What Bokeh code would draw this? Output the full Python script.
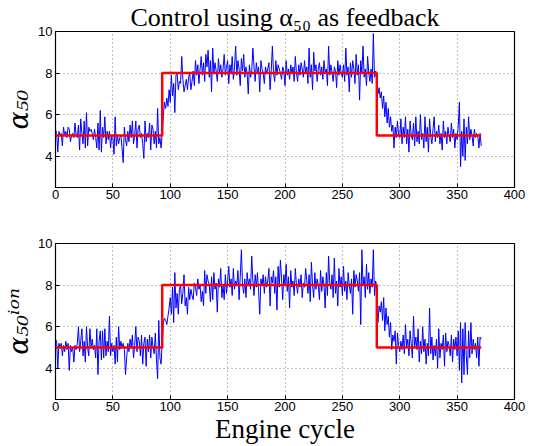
from bokeh.plotting import figure
from bokeh.layouts import column
from bokeh.models import FixedTicker, Range1d
from bokeh.embed import file_html
from bokeh.resources import INLINE

# ---------------- data ----------------
cycles = list(range(372))

alpha50 = [
    5.3, 5.1, 4.2, 5.2, 5.0, 5.1, 4.5, 5.4, 5.0, 5.2,
    4.9, 5.4, 5.3, 4.7, 5.0, 5.1, 4.9, 5.6, 5.0, 4.9,
    5.5, 4.3, 5.8, 5.1, 4.6, 5.7, 4.4, 6.1, 4.5, 5.4,
    5.2, 5.3, 5.1, 4.8, 5.3, 4.9, 4.4, 5.6, 4.3, 6.2,
    4.2, 5.4, 4.9, 5.9, 4.6, 5.2, 4.8, 5.2, 4.4, 5.0,
    4.9, 4.1, 5.9, 4.5, 5.0, 4.6, 4.9, 5.0, 4.4, 3.7,
    5.4, 4.8, 4.5, 5.2, 4.7, 5.5, 4.9, 5.7, 4.6, 5.0,
    5.7, 4.4, 5.3, 5.5, 4.9, 5.1, 4.6, 3.9, 5.7, 4.7,
    5.1, 4.9, 5.6, 4.3, 5.5, 5.3, 4.6, 5.2, 4.4, 6.3,
    4.6, 4.9, 4.4, 5.1, 6.0, 6.6, 6.3, 6.8, 6.4, 7.2,
    6.6, 7.9, 6.9, 7.5, 6.1, 7.9, 8.0, 7.2, 7.6, 7.5,
    8.8, 7.7, 7.1, 7.4, 7.7, 7.2, 7.8, 8.0, 7.2, 7.6,
    8.1, 7.4, 8.6, 7.9, 8.4, 7.5, 8.2, 8.8, 7.9, 8.5,
    7.6, 8.9, 8.3, 9.1, 7.8, 8.6, 7.1, 9.2, 8.0, 8.5,
    8.1, 7.6, 8.7, 8.0, 8.4, 7.8, 8.2, 8.9, 7.9, 8.3,
    8.6, 7.5, 8.4, 8.0, 8.8, 7.7, 8.3, 9.3, 7.9, 8.6,
    8.2, 7.4, 8.7, 8.1, 8.9, 7.8, 8.3, 8.0, 7.0, 8.4,
    7.8, 8.1, 9.2, 8.3, 7.6, 8.5, 8.0, 8.3, 7.1, 8.6,
    8.2, 8.0, 7.5, 8.3, 8.0, 8.2, 8.5, 7.2, 8.1, 9.3,
    8.0, 7.6, 8.6, 7.9, 8.4, 8.2, 8.0, 7.7, 8.3, 8.1,
    7.4, 8.6, 7.9, 8.2, 7.7, 8.4, 8.0, 8.3, 7.6, 8.8,
    8.0, 7.6, 8.4, 7.9, 8.5, 8.2, 7.8, 8.6, 8.0, 8.3,
    7.5, 9.2, 7.8, 8.4, 7.2, 9.0, 8.1, 8.4, 7.6, 8.2,
    8.5, 7.9, 8.3, 7.7, 8.6, 8.0, 8.2, 7.4, 9.3, 7.9,
    8.4, 8.0, 7.6, 8.3, 8.1, 7.3, 8.6, 7.9, 8.4, 8.0,
    7.8, 8.4, 7.6, 9.2, 7.9, 8.3, 7.1, 8.5, 7.8, 8.6,
    8.2, 7.5, 8.9, 7.9, 8.4, 6.7, 8.6, 8.0, 9.3, 7.8,
    8.2, 7.4, 8.8, 8.0, 7.6, 8.2, 7.5, 9.9, 7.8, 8.1,
    7.7, 7.0, 7.3, 6.8, 7.1, 6.3, 6.9, 5.9, 6.6, 5.6,
    6.3, 5.4, 5.9, 5.2, 5.5, 4.4, 5.4, 4.9, 5.7, 5.0,
    4.9, 5.8, 4.6, 5.4, 4.9, 5.9, 4.6, 5.3, 4.2, 5.7,
    5.0, 4.8, 5.6, 4.5, 5.9, 4.7, 5.2, 4.6, 6.0, 4.8,
    5.1, 4.4, 5.9, 4.7, 5.4, 4.2, 5.8, 5.0, 4.6, 5.3,
    5.9, 4.7, 5.2, 4.9, 5.5, 4.6, 5.1, 4.3, 5.7, 4.9,
    5.2, 4.6, 5.4, 5.0, 4.7, 5.6, 4.9, 5.3, 4.4, 5.1,
    4.8, 5.5, 6.6, 3.5, 5.2, 4.0, 5.8, 3.8, 5.4, 4.6,
    5.9, 4.8, 5.3, 5.0, 4.5, 5.3, 4.9, 5.1, 5.0, 4.4,
    5.1, 4.5,
]

alpha50_ion = [
    5.4, 5.3, 4.0, 5.2, 5.0, 5.2, 4.6, 5.1, 4.8, 5.3,
    4.9, 5.2, 3.9, 5.1, 4.8, 5.0, 4.3, 5.1, 4.9, 5.2,
    6.0, 4.8, 5.3, 5.9, 4.6, 5.3, 4.3, 6.0, 5.0, 4.6,
    5.9, 5.0, 5.4, 4.9, 5.1, 4.5, 5.9, 3.7, 5.3, 5.8,
    4.4, 5.8, 4.5, 5.9, 4.6, 5.3, 4.8, 6.5, 4.6, 5.2,
    4.8, 5.1, 4.2, 5.5, 4.3, 6.0, 4.9, 5.3, 5.0, 5.2,
    4.9, 3.7, 4.5, 5.2, 4.8, 5.4, 5.0, 5.6, 4.5, 5.1,
    6.0, 4.8, 5.5, 5.3, 4.6, 5.6, 4.2, 5.2, 5.5, 4.1,
    5.4, 4.8, 5.6, 4.5, 5.5, 5.0, 4.7, 5.7, 4.4, 3.5,
    6.3, 4.5, 4.2, 5.2, 6.2, 6.4, 6.3, 6.1, 6.5, 6.9,
    7.4, 6.6, 7.9, 6.2, 8.6, 6.9, 7.6, 6.6, 7.8, 8.0,
    7.1, 7.6, 8.5, 7.0, 7.4, 6.6, 7.9, 7.3, 7.8, 7.5,
    7.3, 8.1, 7.9, 7.5, 8.3, 7.8, 8.0, 7.2, 7.7, 7.0,
    8.7, 7.6, 8.5, 8.2, 8.0, 7.2, 8.4, 7.3, 8.6, 7.8,
    8.1, 6.7, 8.3, 7.9, 8.8, 7.4, 8.0, 7.3, 8.5, 7.6,
    8.2, 8.9, 7.9, 8.3, 7.5, 8.8, 7.8, 8.2, 8.0, 8.7,
    7.3, 8.4, 9.7, 8.0, 7.6, 8.3, 7.4, 8.6, 8.0, 8.3,
    7.8, 9.4, 8.2, 7.5, 8.5, 7.9, 8.6, 7.7, 6.6, 8.3,
    8.0, 8.5, 7.6, 8.4, 7.9, 8.2, 8.8, 7.0, 8.4, 8.1,
    8.7, 7.6, 8.4, 6.8, 8.9, 7.9, 9.2, 8.3, 7.3, 8.5,
    8.0, 9.0, 7.7, 8.4, 6.9, 8.7, 7.9, 8.2, 7.5, 8.8,
    8.0, 7.6, 8.3, 7.9, 8.5, 7.4, 8.1, 7.9, 8.8, 8.2,
    7.6, 8.5, 7.2, 9.1, 8.0, 7.4, 8.6, 7.8, 8.3, 8.0,
    7.3, 8.7, 7.7, 8.4, 8.0, 6.9, 8.6, 7.5, 9.4, 8.1,
    7.8, 8.5, 7.4, 9.3, 7.6, 8.2, 7.0, 8.8, 7.9, 8.4,
    7.5, 8.9, 7.7, 8.2, 7.3, 8.6, 8.0, 7.6, 8.3, 6.6,
    8.7, 7.9, 8.5, 8.2, 7.7, 8.6, 6.1, 9.7, 8.0, 8.4,
    7.4, 9.0, 7.8, 8.6, 7.6, 8.3, 7.9, 9.7, 7.5, 8.2,
    7.9, 6.2, 7.0, 6.7, 7.2, 6.3, 7.4, 5.8, 6.9, 6.1,
    6.5, 5.5, 6.2, 4.9, 5.6, 5.3, 5.8, 4.2, 5.7, 5.1,
    4.8, 5.3, 4.9, 5.6, 4.7, 6.1, 5.0, 5.4, 4.6, 5.8,
    5.2, 4.5, 6.5, 5.0, 5.5, 4.9, 5.9, 4.3, 5.3, 4.7,
    6.0, 4.8, 5.4, 4.2, 5.2, 4.6, 6.9, 4.7, 5.5, 4.4,
    5.1, 4.6, 5.4, 4.0, 5.9, 4.5, 5.2, 4.9, 5.6, 4.1,
    5.7, 4.8, 5.3, 5.1, 4.6, 5.6, 4.3, 5.4, 4.9, 5.5,
    4.6, 5.8, 3.9, 6.2, 3.3, 5.9, 3.7, 6.2, 4.6, 3.7,
    5.8, 4.5, 6.2, 4.7, 5.4, 4.9, 5.2, 4.5, 5.5, 4.1,
    5.5, 5.4,
]

setpoint_cycles = [0, 93, 280, 371]
setpoint_values = [5, 8, 5, 5]

x_ticks = [0, 50, 100, 150, 200, 250, 300, 350, 400]
y_ticks = [4, 6, 8, 10]

title_text = "Control using α₅₀ as feedback"
xlabel_text = "Engine cycle"
ylabel_top = "α₅₀"
ylabel_bottom = "α₅₀ⁱᵒⁿ"


def make_fig(series, ylabel, top_border, bottom_border, title=None, xlabel=None):
    p = figure(frame_width=459, frame_height=156, output_backend="svg",
               toolbar_location=None, title=title,
               x_range=Range1d(0, 400), y_range=Range1d(2.5, 10),
               min_border_right=14, min_border_top=top_border,
               min_border_left=52, min_border_bottom=bottom_border)
    p.line(cycles, series, line_color="#0000ff", line_width=1)
    p.step(setpoint_cycles, setpoint_values, mode="after",
           line_color="#ff0000", line_width=2.5)

    p.outline_line_color = "black"
    p.outline_line_width = 1.2
    p.outline_line_alpha = 1.0
    p.background_fill_color = "white"
    p.border_fill_color = "white"

    p.xaxis.ticker = FixedTicker(ticks=x_ticks)
    p.yaxis.ticker = FixedTicker(ticks=y_ticks)
    for ax in (p.xaxis, p.yaxis):
        ax.axis_line_color = "black"
        ax.major_tick_in = 4
        ax.major_tick_out = 0
        ax.minor_tick_line_color = None
        ax.major_label_text_font = "Liberation Sans"
        ax.major_label_text_font_size = "13px"
        ax.major_label_text_color = "black"
        ax.major_label_standoff = 3
    p.xaxis.major_label_standoff = 2
    p.grid.grid_line_color = "#777777"
    p.grid.grid_line_dash = "1 3"
    p.grid.grid_line_alpha = 0.9

    p.yaxis.axis_label = ylabel
    p.yaxis.axis_label_text_font = "DejaVu Serif"
    p.yaxis.axis_label_text_font_style = "italic"
    p.yaxis.axis_label_text_font_size = "27px"
    p.yaxis.axis_label_standoff = 1
    p.yaxis.axis_label_text_color = "black"

    if xlabel:
        p.xaxis.axis_label = xlabel
        p.xaxis.axis_label_text_font = "Liberation Serif"
        p.xaxis.axis_label_text_font_style = "normal"
        p.xaxis.axis_label_text_font_size = "27px"
        p.xaxis.axis_label_standoff = 0
        p.xaxis.axis_label_text_color = "black"

    if title:
        p.title.text_font = "Liberation Serif"
        p.title.text_font_style = "normal"
        p.title.text_font_size = "26px"
        p.title.align = "center"
        p.title.text_color = "black"
        p.title.standoff = 0
        p.title.offset = 0
    return p


p1 = make_fig(alpha50, ylabel_top, top_border=31, bottom_border=24,
              title=title_text)
p2 = make_fig(alpha50_ion, ylabel_bottom, top_border=32, bottom_border=30,
              xlabel=xlabel_text)

layout = column(p1, p2, spacing=0)
open("out.html", "w").write(file_html(layout, INLINE))
